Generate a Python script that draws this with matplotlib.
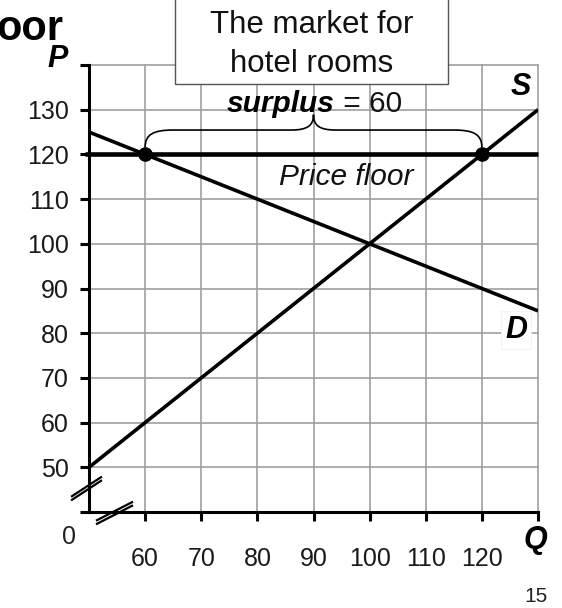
import matplotlib
matplotlib.use("Agg")
import matplotlib.pyplot as plt
from matplotlib.path import Path
from matplotlib.patches import PathPatch, Rectangle
from matplotlib.lines import Line2D

plt.rcParams['font.family'] = ['Liberation Sans', 'DejaVu Sans']

# ---- data ----
q_ticks = [60, 70, 80, 90, 100, 110, 120, 130]
q_labels = ['60', '70', '80', '90', '100', '110', '120', '']
p_ticks = [40, 50, 60, 70, 80, 90, 100, 110, 120, 130, 140]
p_labels = ['', '50', '60', '70', '80', '90', '100', '110', '120', '130', '']
supply_q = [50, 130]
supply_p = [50, 130]
demand_q = [50, 130]
demand_p = [125, 85]
floor_price = 120
qd_at_floor = 60
qs_at_floor = 120
surplus = qs_at_floor - qd_at_floor

W, H = 562, 608
fig = plt.figure(figsize=(W / 100, H / 100), dpi=100)

def fx(x):
    return x / W

def fy(y):
    return 1 - y / H

ax = fig.add_axes([fx(89), fy(512), (538 - 89) / W, (512 - 65) / H])
ax.set_xlim(50, 130)
ax.set_ylim(40, 140)

# grid
for q in range(60, 131, 10):
    ax.axvline(q, color='#a0a0a0', lw=1.2, zorder=1, clip_on=False)
for p in range(50, 141, 10):
    ax.axhline(p, color='#a0a0a0', lw=1.2, zorder=1, clip_on=False)

for s in ['top', 'right']:
    ax.spines[s].set_visible(False)
for s in ['left', 'bottom']:
    ax.spines[s].set_linewidth(2.2)
    ax.spines[s].set_color('black')
    ax.spines[s].set_zorder(3)

ax.set_xticks(q_ticks)
ax.set_xticklabels(q_labels)
ax.set_yticks(p_ticks)
ax.set_yticklabels(p_labels)
ax.tick_params(axis='x', length=6.5, width=2.2, pad=19, labelsize=18, colors='black', labelcolor='#1a1a1a')
ax.tick_params(axis='y', length=6.5, width=2.2, pad=8, labelsize=18, colors='black', labelcolor='#1a1a1a')

# curves
ax.plot(supply_q, supply_p, color='black', lw=2.6, zorder=4, solid_capstyle='butt')
ax.plot(demand_q, demand_p, color='black', lw=2.6, zorder=4, solid_capstyle='butt')
ax.plot([49.3, 130], [floor_price, floor_price], color='black', lw=3.3, zorder=5,
        clip_on=False, solid_capstyle='butt')
ax.plot([qd_at_floor, qs_at_floor], [floor_price, floor_price], 'o', color='black',
        markersize=9.5, zorder=6, clip_on=False)

# brace over surplus
mid = (qd_at_floor + qs_at_floor) / 2
lvl = 125.45
tip = 128.9
y0 = 121.6
verts = [
    (qd_at_floor, y0),
    (qd_at_floor, 124.5), (qd_at_floor + 1.5, lvl), (qd_at_floor + 5, lvl),
    (mid - 4, lvl),
    (mid - 1, lvl), (mid, 126.5), (mid, tip),
    (mid, 126.5), (mid + 1, lvl), (mid + 4, lvl),
    (qs_at_floor - 5, lvl),
    (qs_at_floor - 1.5, lvl), (qs_at_floor, 124.5), (qs_at_floor, y0),
]
codes = [Path.MOVETO,
         Path.CURVE4, Path.CURVE4, Path.CURVE4,
         Path.LINETO,
         Path.CURVE4, Path.CURVE4, Path.CURVE4,
         Path.CURVE4, Path.CURVE4, Path.CURVE4,
         Path.LINETO,
         Path.CURVE4, Path.CURVE4, Path.CURVE4]
ax.add_patch(PathPatch(Path(verts, codes), facecolor='none', edgecolor='black',
                       lw=1.2, zorder=4, clip_on=False))

# axis break marks (pixel coords)
def brk(x1, y1, x2, y2):
    for d in (-1.8, 1.8):
        fig.add_artist(Line2D([fx(x1), fx(x2)], [fy(y1 + d), fy(y2 + d)],
                              color='black', lw=1.6, zorder=10))

brk(72, 498, 101, 479)
brk(97, 522, 132, 504)

# texts
fig.text(fx(63), fy(40), 'oor', fontsize=30, fontweight='bold', ha='right', va='baseline')
fig.text(fx(58), fy(59), 'P', fontsize=22, fontweight='bold', fontstyle='italic',
         ha='center', va='center')
fig.add_artist(Rectangle((fx(175), fy(84)), fx(448) - fx(175), fy(-5) - fy(84),
                         transform=fig.transFigure, facecolor='white',
                         edgecolor='#555555', lw=1.0, zorder=8))
fig.text(fx(311.5), fy(33), 'The market for', fontsize=22.5, ha='center', va='baseline',
         zorder=9, color='#111111')
fig.text(fx(311.5), fy(72), 'hotel rooms', fontsize=22.5, ha='center', va='baseline',
         zorder=9, color='#111111')
fig.text(fx(335), fy(112), 'surplus', fontsize=21.5, fontweight='bold', fontstyle='italic',
         ha='right', va='baseline', zorder=9)
fig.text(fx(335), fy(112), f' = {surplus}', fontsize=21.5, ha='left', va='baseline', zorder=9,
         color='#111111')
fig.text(fx(346), fy(185), 'Price floor', fontsize=21.5, fontstyle='italic',
         ha='center', va='baseline', zorder=9, color='#111111')
fig.text(fx(521), fy(87), 'S', fontsize=22, fontweight='bold', fontstyle='italic',
         ha='center', va='center', zorder=9)
fig.text(fx(516), fy(330), 'D', fontsize=22, fontweight='bold', fontstyle='italic',
         ha='center', va='center', zorder=9,
         bbox=dict(facecolor='white', edgecolor='#eeeeee', pad=3, lw=0.5))
fig.text(fx(535), fy(540), 'Q', fontsize=22, fontweight='bold', fontstyle='italic',
         ha='center', va='center', zorder=9)
fig.text(fx(69), fy(537), '0', fontsize=18, ha='center', va='center', color='#222222')
fig.text(fx(536), fy(596), '15', fontsize=15, ha='center', va='center', color='#222222')

fig.savefig('out.png', dpi=100)
